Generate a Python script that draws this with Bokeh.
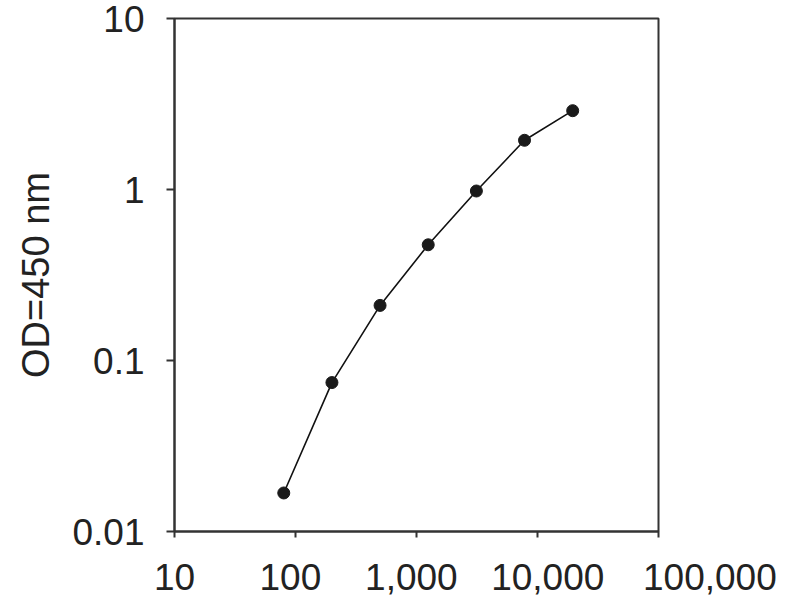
from bokeh.plotting import figure
from bokeh.models import Range1d, FixedTicker, NumeralTickFormatter
from bokeh.embed import file_html
from bokeh.resources import INLINE

# Data
concentration = [80, 200, 500, 1250, 3125, 7812, 19531]
od450 = [0.0168, 0.0743, 0.21, 0.475, 0.98, 1.94, 2.89]

x_ticks = [10, 100, 1000, 10000, 100000]
x_tick_labels = ["10", "100", "1,000", "10,000", "100,000"]
y_ticks = [0.01, 0.1, 1, 10]
y_title = "OD=450 nm"

# styling: the reference nudges some x tick labels sideways (no-break spaces as padding)
NB = "\u00a0"
pad_left = [0, 0, 0, 2, 10]
pad_right = [0, 1, 1, 0, 0]

FONT = "Liberation Sans"
FS = "37px"
INK = "#222222"

p = figure(width=800, height=600, x_axis_type="log", y_axis_type="log",
           x_range=Range1d(10, 100000), y_range=Range1d(0.01, 10),
           output_backend="svg", toolbar_location=None,
           min_border_left=174, min_border_right=142,
           min_border_top=18, min_border_bottom=68)

p.line(concentration, od450, line_color="#111111", line_width=1.6)
p.scatter(concentration, od450, size=12, fill_color="#1a1a1a", line_color="#1a1a1a")

p.xgrid.visible = False
p.ygrid.visible = False
p.outline_line_color = "#333333"
p.outline_line_width = 2
p.background_fill_color = "white"
p.border_fill_color = "white"

for ax in (p.xaxis[0], p.yaxis[0]):
    ax.axis_line_color = "#333333"
    ax.axis_line_width = 2
    ax.major_tick_line_color = "#333333"
    ax.major_tick_line_width = 2
    ax.major_tick_in = 0
    ax.minor_tick_line_color = None
    ax.major_label_text_font = FONT
    ax.major_label_text_font_size = FS
    ax.major_label_text_color = INK

p.xaxis[0].ticker = FixedTicker(ticks=x_ticks, minor_ticks=[])
p.xaxis[0].formatter = NumeralTickFormatter(format="0,0")
p.xaxis[0].major_label_overrides = {
    t: NB * l + s + NB * r
    for t, s, l, r in zip(x_ticks, x_tick_labels, pad_left, pad_right)
}
p.xaxis[0].major_tick_out = 6
p.xaxis[0].major_label_standoff = 19

p.yaxis[0].ticker = FixedTicker(ticks=y_ticks, minor_ticks=[])
p.yaxis[0].formatter = NumeralTickFormatter(format="0.[00]")
p.yaxis[0].major_tick_out = 8
p.yaxis[0].major_label_standoff = 22
p.yaxis[0].axis_label = y_title
p.yaxis[0].axis_label_text_font = FONT
p.yaxis[0].axis_label_text_font_size = "38px"
p.yaxis[0].axis_label_text_font_style = "normal"
p.yaxis[0].axis_label_text_color = INK
p.yaxis[0].axis_label_standoff = 12

open("out.html", "w").write(file_html(p, INLINE))
